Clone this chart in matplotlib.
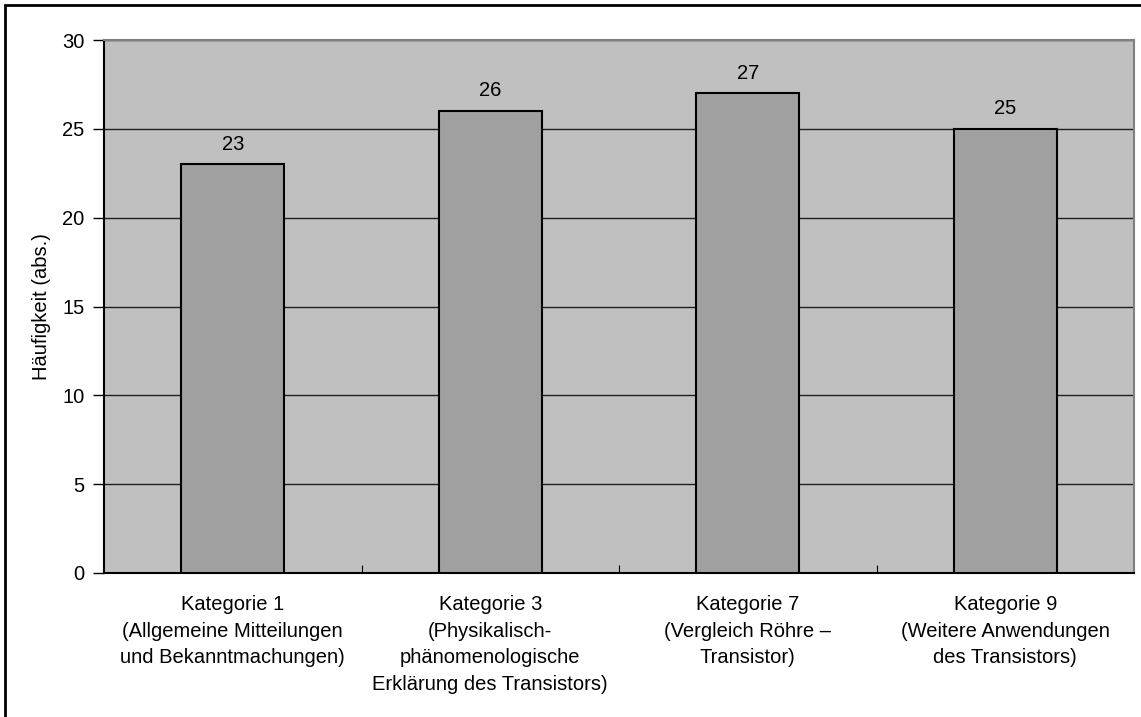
import matplotlib
matplotlib.use("Agg")
import matplotlib.pyplot as plt
from matplotlib.patches import Rectangle

plt.rcParams['font.family'] = ['Liberation Sans', 'DejaVu Sans']

categories = [
    "Kategorie 1\n(Allgemeine Mitteilungen\nund Bekanntmachungen)",
    "Kategorie 3\n(Physikalisch-\nphänomenologische\nErklärung des Transistors)",
    "Kategorie 7\n(Vergleich Röhre –\nTransistor)",
    "Kategorie 9\n(Weitere Anwendungen\ndes Transistors)",
]
counts = [23, 26, 27, 25]
y_ticks = [0, 5, 10, 15, 20, 25, 30]

W, H = 1141, 717
fig = plt.figure(figsize=(W / 100, H / 100), dpi=100)
ax = fig.add_axes([104 / W, 1 - 573 / H, (1134 - 104) / W, (573 - 40) / H])
ax.set_facecolor('#c0c0c0')

# outer chart frame (only left and top edges fall inside the image)
fig.patches.append(Rectangle((5 / W, -0.1), 1.2, 1 - 5 / H + 0.1, transform=fig.transFigure,
                             fill=False, edgecolor='black', linewidth=2, zorder=0))

x = list(range(len(categories)))
ax.bar(x, counts, width=0.4, color='#a0a0a0', edgecolor='black', linewidth=1.5, zorder=3)

for xi, v in zip(x, counts):
    ax.text(xi, v + 0.6, str(v), ha='center', va='bottom', fontsize=14.5)

ax.set_xlim(-0.5, len(categories) - 0.5)
ax.set_ylim(0, 30)
ax.set_yticks(y_ticks)
ax.yaxis.grid(True, color='#202020', linewidth=1)
ax.set_axisbelow(True)

ax.set_xticks([i + 0.5 for i in x[:-1]], minor=False)
ax.set_xticklabels([])
ax.set_xticks(x, minor=True)
ax.set_xticklabels(categories, minor=True, fontsize=14.5, linespacing=1.5)
ax.tick_params(axis='x', which='major', direction='in', length=6, color='black')
ax.tick_params(axis='x', which='minor', length=0, pad=16)
ax.tick_params(axis='y', direction='out', length=8, width=1, labelsize=14.5, pad=6)

ax.set_ylabel("Häufigkeit (abs.)", fontsize=14.5)
ax.yaxis.set_label_coords(-(104 - 51) / (1134 - 104), 0.5)

for side in ('top', 'right'):
    ax.spines[side].set_color('#808080')
    ax.spines[side].set_linewidth(1.5)
for side in ('left', 'bottom'):
    ax.spines[side].set_color('black')
    ax.spines[side].set_linewidth(1.5)

fig.savefig('out.png', dpi=100)
